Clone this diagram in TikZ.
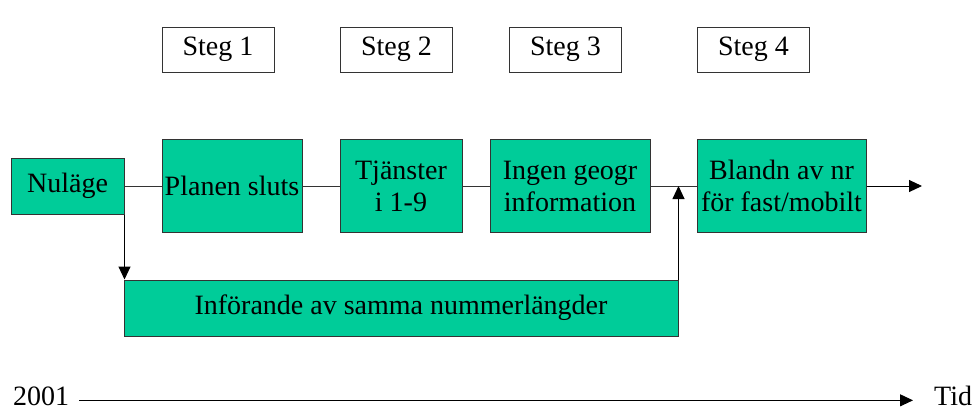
\documentclass[tikz,border=0pt]{standalone}
\usepackage{fontspec}
\setmainfont{Liberation Serif}
\usetikzlibrary{arrows.meta}
\definecolor{stegfyll}{RGB}{0,204,153}

\begin{document}
\begin{tikzpicture}[x=1pt,y=-1pt,
	box/.style={draw=black!80,line width=1pt,fill=stegfyll,align=center,inner sep=0pt,font=\fontsize{28}{32}\selectfont},
	stegbox/.style={draw=black!80,line width=1pt,minimum width=112pt,minimum height=45pt,inner sep=0pt,font=\fontsize{28}{32}\selectfont},
	lbl/.style={inner sep=0pt,font=\fontsize{28}{32}\selectfont},
	linje/.style={draw=black!80,line width=1pt},
	pil/.style={draw=black,line width=1pt,-{Triangle[length=13pt,width=12pt]}}]
	\useasboundingbox (0,0) rectangle (976,408);

	% steg
	\node[stegbox] (s1) at (218,49.5) {Steg 1};
	\node[stegbox] (s2) at (396.5,49.5) {Steg 2};
	\node[stegbox] (s3) at (565.5,49.5) {Steg 3};
	\node[stegbox] (s4) at (753.5,49.5) {Steg 4};

	% huvudkedja
	\node[box,minimum width=113pt,minimum height=56pt] (nul) at (67.5,186) {Nuläge};
	\node[box,minimum width=140pt,minimum height=93pt] (plan) at (232,186) {Planen sluts};
	\node[box,minimum width=122pt,minimum height=93pt] (tjan) at (401,186) {Tjänster\\i 1-9};
	\node[box,minimum width=160pt,minimum height=93pt] (ingen) at (570,186) {Ingen geogr\\information};
	\node[box,minimum width=169pt,minimum height=93pt] (blandn) at (781.5,186) {Blandn av nr\\för fast/mobilt};
	\node[box,minimum width=554pt,minimum height=56pt] (inf) at (401,308) {Införande av samma nummerlängder};

	\coordinate (ut) at (922,186);
	\coordinate (ned) at (nul.south east |- inf.north);
	\coordinate (j) at (inf.north east |- ingen.east);

	\draw[linje] (nul.east) -- (plan.west);
	\draw[linje] (plan.east) -- (tjan.west);
	\draw[linje] (tjan.east) -- (ingen.west);
	\draw[linje] (ingen.east) -- (blandn.west);
	\draw[pil] (blandn.east) -- (ut);
	\draw[pil] (nul.south east) -- (ned);
	\draw[pil] (inf.north east) -- (j);

	% tidsaxel
	\node[lbl,anchor=base west] (yr) at (13,405) {2001};
	\node[lbl,anchor=base west] (tid) at (934,405) {Tid};
	\coordinate (t0) at ([xshift=10pt,yshift=-4.5pt]yr.east);
	\coordinate (t1) at ([xshift=-21pt]tid.west |- t0);
	\draw[pil] (t0) -- (t1);
\end{tikzpicture}
\end{document}
